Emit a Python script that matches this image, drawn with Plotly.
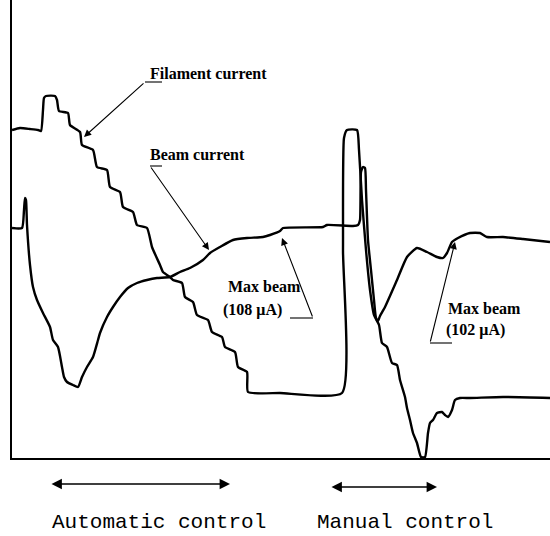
import plotly.graph_objects as go

# Time axis (arbitrary units) and currents (arbitrary units, height above baseline)
fil_t = [12,20,30,38,41,43,44,46,55,57,59,68,70,80,82,93,97,107,110,120,123,133,137,147,152,160,163,170,173,182,185,193,197,208,212,222,225,235,238,247,248,280,342,343,344,347,357,359,362,366,370,374,379,382,387,392,397,400,405,407,410,413,417,421,425,428,430,433,437,442,445,448,452,455,460,470,503,550]
fil_i = [328,330,329,328,327,348,360,362,362,358,347,345,333,326,313,308,291,288,271,266,251,246,233,230,211,193,186,181,178,175,161,156,143,138,126,121,111,106,91,86,66,65,65,208,320,328,328,308,258,208,168,143,133,115,111,95,93,78,61,50,38,25,15,1,1,25,35,38,45,46,43,41,48,58,60,60,61,60]

beam_t = [12,22,24,25,26,27,30,33,37,43,50,53,58,62,64,67,73,78,82,87,93,98,100,107,113,120,128,137,147,157,170,180,190,203,210,220,233,247,263,270,280,283,323,327,353,358,360,361,363,365,366,368,371,374,376,378,380,385,397,407,417,427,437,443,447,452,458,470,480,487,503,523,550]
beam_i = [230,230,248,260,258,233,193,171,158,145,131,118,111,91,81,76,73,71,81,91,101,118,125,141,151,161,170,175,178,180,181,186,190,198,205,211,218,220,221,223,227,230,231,233,232,233,238,286,291,290,268,218,188,158,140,137,142,151,178,201,210,206,201,200,205,216,220,225,225,221,221,219,216]

labels = {
    "fil": "Filament current",
    "beam": "Beam current",
    "max1": ["Max beam", "(108 μA)"],
    "max2": ["Max beam", "(102 μA)"],
    "auto": "Automatic control",
    "manual": "Manual control",
}

fig = go.Figure()
line = dict(color="black", width=2.4, shape="spline", smoothing=0.5)
fig.add_trace(go.Scatter(x=fil_t, y=fil_i, mode="lines", line=line, hoverinfo="skip"))
fig.add_trace(go.Scatter(x=beam_t, y=beam_i, mode="lines", line=line, hoverinfo="skip"))

serif = dict(family="Liberation Serif", size=16, color="black")
mono = dict(family="Liberation Mono", size=21, color="black")

anns = []
def txt(x, y, s, font=serif, xref="x", yref="y"):
    anns.append(dict(x=x, y=y, xref=xref, yref=yref, text=s, showarrow=False,
                     xanchor="left", yanchor="middle", font=font))

def arrow(x, y, ax, ay):
    anns.append(dict(x=x, y=y, ax=ax, ay=ay, xref="x", yref="y", axref="x", ayref="y",
                     text="", showarrow=True, arrowhead=2, arrowsize=1.3, arrowwidth=1.1,
                     arrowcolor="black"))

txt(148, 385, "<b>" + labels["fil"] + "</b>")
txt(148, 304, "<b>" + labels["beam"] + "</b>")
txt(226, 172, "<b>" + labels["max1"][0] + "</b>")
txt(221, 148, "<b>" + labels["max1"][1] + "</b>")
txt(446, 150, "<b>" + labels["max2"][0] + "</b>")
txt(444, 128, "<b>" + labels["max2"][1] + "</b>")

arrow(84, 321, 145, 376)
arrow(209, 208, 150, 292)
arrow(282, 220, 313, 140)
arrow(455, 216, 430, 115)

shapes = [
    dict(type="line", x0=145, x1=162, y0=376, y1=376, xref="x", yref="y", line=dict(color="black", width=1.1)),
    dict(type="line", x0=150, x1=162, y0=292, y1=292, xref="x", yref="y", line=dict(color="black", width=1.1)),
    dict(type="line", x0=290, x1=313, y0=140, y1=140, xref="x", yref="y", line=dict(color="black", width=1.1)),
    dict(type="line", x0=430, x1=452, y0=115, y1=115, xref="x", yref="y", line=dict(color="black", width=1.1)),
]

# bottom double arrows
for x0, x1, py in [(50, 230, 484), (330, 437, 487)]:
    yp = (458 - py) / 458
    anns.append(dict(x=x1, y=yp, xref="x", yref="paper", ax=-(x1 - x0), ay=0,
                     axref="pixel", ayref="pixel", text="", showarrow=True,
                     arrowhead=2, arrowside="end+start", arrowsize=1.3, arrowwidth=1.6,
                     arrowcolor="black"))

txt(50, (458 - 522) / 458, labels["auto"], font=mono, yref="paper")
txt(315, (458 - 522) / 458, labels["manual"], font=mono, yref="paper")

fig.update_layout(
    width=550, height=536,
    margin=dict(l=12, r=0, t=0, b=78),
    paper_bgcolor="white", plot_bgcolor="white",
    showlegend=False,
    annotations=anns, shapes=shapes,
    xaxis=dict(range=[12, 550], showgrid=False, zeroline=False, showticklabels=False,
               ticks="", showline=True, linecolor="black", linewidth=2),
    yaxis=dict(range=[0, 458], showgrid=False, zeroline=False, showticklabels=False,
               ticks="", showline=True, linecolor="black", linewidth=2),
)

fig.write_html("out.html", config={"displayModeBar": False},
               post_script="document.body.style.margin='0px';document.body.style.overflow='hidden';")
